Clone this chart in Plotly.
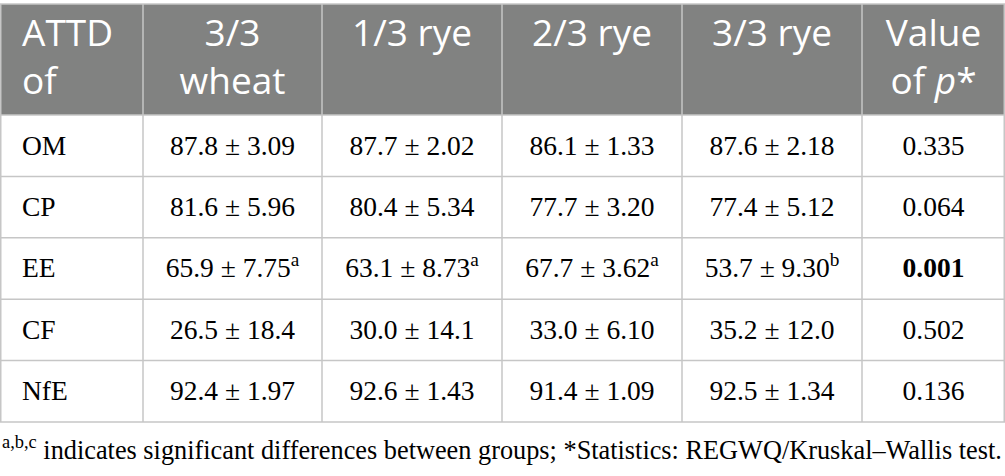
import numpy as np
import plotly.graph_objects as go

# ---------------- data ----------------
nutrients = ["OM", "CP", "EE", "CF", "NfE"]
group_labels = ["3/3<br>wheat", "1/3 rye", "2/3 rye", "3/3 rye"]
header_first = "ATTD<br>of"
header_last = "Value<br>of <i>p</i>*"

mean_wheat33 = [87.8, 81.6, 65.9, 26.5, 92.4]
mean_rye13 = [87.7, 80.4, 63.1, 30.0, 92.6]
mean_rye23 = [86.1, 77.7, 67.7, 33.0, 91.4]
mean_rye33 = [87.6, 77.4, 53.7, 35.2, 92.5]

sd_wheat33 = [3.09, 5.96, 7.75, 18.4, 1.97]
sd_rye13 = [2.02, 5.34, 8.73, 14.1, 1.43]
sd_rye23 = [1.33, 3.20, 3.62, 6.10, 1.09]
sd_rye33 = [2.18, 5.12, 9.30, 12.0, 1.34]

letter_wheat33 = ["", "", "a", "", ""]
letter_rye13 = ["", "", "a", "", ""]
letter_rye23 = ["", "", "a", "", ""]
letter_rye33 = ["", "", "b", "", ""]

p_values = [0.335, 0.064, 0.001, 0.502, 0.136]
p_significant = [False, False, True, False, False]

footnote = ("<sup>a,b,c</sup> indicates significant differences between groups; "
            "*Statistics: REGWQ/Kruskal\u2013Wallis test.")

# ---------------- layout constants ----------------
W, H = 1005, 476
col_widths = [143, 179, 180, 180, 180, 143]
table_top = 4
header_h = 111
row_h = 61.4
pad_left = 22
text_dy = 2
header_fill = "#818281"
border = "#c6c6c6"
serif = "Liberation Serif, Times New Roman, serif"
sans = "Open Sans, Noto Sans, sans-serif"

# ---------------- build cell strings ----------------
def fmt(means, sds, letters):
    out = []
    for m, s, l in zip(means, sds, letters):
        t = f"{m:.1f} \u00b1 {s:#.3g}"
        if l:
            t += f"<sup>{l}</sup>"
        out.append(t)
    return out

columns = [
    list(nutrients),
    fmt(mean_wheat33, sd_wheat33, letter_wheat33),
    fmt(mean_rye13, sd_rye13, letter_rye13),
    fmt(mean_rye23, sd_rye23, letter_rye23),
    fmt(mean_rye33, sd_rye33, letter_rye33),
    [(f"<b>{p:.3f}</b>" if s else f"{p:.3f}") for p, s in zip(p_values, p_significant)],
]
headers = [header_first] + group_labels + [header_last]

edges = np.concatenate([[0], np.cumsum(col_widths)])
centers = (edges[:-1] + edges[1:]) / 2
n_rows = len(nutrients)
row_edges = table_top + header_h + row_h * np.arange(n_rows + 1)
row_centers = (row_edges[:-1] + row_edges[1:]) / 2
table_bottom = row_edges[-1]

fig = go.Figure()

# header background
fig.add_shape(type="rect", x0=edges[0], x1=edges[-1], y0=table_top, y1=table_top + header_h,
              fillcolor=header_fill, line_width=0, layer="below")

# grid lines
for x in edges:
    xx = min(max(x, 0.75), W - 0.75)
    fig.add_shape(type="line", x0=xx, x1=xx, y0=table_top, y1=table_bottom,
                  line=dict(color=border, width=1.5))
for y in np.concatenate([[table_top, table_top + header_h], row_edges[1:]]):
    fig.add_shape(type="line", x0=0, x1=W, y0=y, y1=y,
                  line=dict(color=border, width=1.5))

# header texts
for j, h in enumerate(headers):
    left = j == 0
    fig.add_trace(go.Scatter(
        x=[edges[j] + pad_left if left else centers[j]], y=[table_top + 14],
        mode="text", text=[h],
        textposition="bottom right" if left else "bottom center",
        textfont=dict(family=sans, size=37, color="white"),
        hoverinfo="skip", showlegend=False, cliponaxis=False,
    ))

# body texts
for j, col in enumerate(columns):
    left = j == 0
    fig.add_trace(go.Scatter(
        x=[edges[j] + pad_left if left else centers[j]] * n_rows, y=row_centers + text_dy,
        mode="text", text=col,
        textposition="middle right" if left else "middle center",
        textfont=dict(family=serif, size=27.5, color="black"),
        hoverinfo="skip", showlegend=False, cliponaxis=False,
    ))

# footnote
fig.add_annotation(
    text=footnote, xref="x", yref="y", x=0, y=448,
    xanchor="left", yanchor="middle", showarrow=False,
    font=dict(family=serif, size=26.3, color="black"),
)

fig.update_xaxes(range=[0, W], visible=False, fixedrange=True)
fig.update_yaxes(range=[H, 0], visible=False, fixedrange=True)
fig.update_layout(
    width=W, height=H, margin=dict(l=0, r=0, t=0, b=0),
    paper_bgcolor="white", plot_bgcolor="white",
)
fig.write_html("out.html", config={"displayModeBar": False},
               post_script="document.body.style.margin='0';")
